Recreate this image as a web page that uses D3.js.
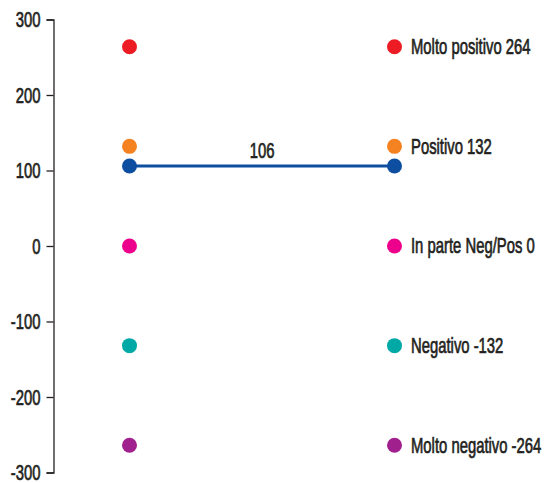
<!DOCTYPE html>
<html><head><meta charset="utf-8">
<script src="https://cdn.jsdelivr.net/npm/d3@7"></script>
<style>body{margin:0;background:#fff}text{font-family:"Liberation Sans",Arial,sans-serif;fill:#231f20;font-size:21.5px;stroke:#231f20;stroke-width:0.7px}</style>
</head><body><svg id="c" width="544" height="483"></svg>
<script>
const categories = ["Molto positivo","Positivo","In parte Neg/Pos","Negativo","Molto negativo"];
const values = [264,132,0,-132,-264];
const colors = ["#ed1c24","#f58220","#ec008c","#00a9a5","#a0218e"];
const meanValue = 106;
const tickValues = [300,200,100,0,-100,-200,-300];
const xPositions = ["left","right"];
const SX = 0.69;

const svg = d3.select("#c");
const y = d3.scaleLinear().domain([-300,300]).range([472.5,19.5]);
const x = d3.scalePoint().domain(xPositions).range([129.5,394.5]);

function squeeze(sel, px, py){
  sel.attr("transform", (d,i,n)=>`translate(${px(d,i,n)},${py(d,i,n)}) scale(${SX},1)`).attr("x",0).attr("y",0);
}

const ax = svg.append("g").attr("transform","translate(53.5,0)")
  .call(d3.axisLeft(y).tickValues(tickValues).tickSize(7).tickPadding(6).tickFormat(d=>String(d)));
ax.attr("font-size",null).attr("font-family",null);
ax.select(".domain").attr("stroke","#231f20").attr("stroke-width",1.3);
ax.selectAll(".tick line").attr("stroke","#231f20").attr("stroke-width",1.3);
ax.selectAll(".tick text").attr("fill","#231f20").attr("dy","0.34em");
squeeze(ax.selectAll(".tick text"), ()=>-13, ()=>0);

xPositions.forEach(p=>{
  svg.append("g").selectAll("circle").data(values).join("circle")
    .attr("cx",x(p)).attr("cy",d=>y(d)).attr("r",7.5)
    .attr("fill",(d,i)=>colors[i]);
});
const lab = svg.append("g").selectAll("text").data(values).join("text")
  .attr("dy","0.34em")
  .text((d,i)=>categories[i]+" "+d);
squeeze(lab, ()=>x("right")+16.5, d=>y(d));

svg.append("line").attr("x1",x("left")).attr("x2",x("right"))
  .attr("y1",y(meanValue)).attr("y2",y(meanValue))
  .attr("stroke","#0d4ea1").attr("stroke-width",3);
svg.append("g").selectAll("circle").data(xPositions).join("circle")
  .attr("cx",d=>x(d)).attr("cy",y(meanValue)).attr("r",7.5).attr("fill","#0d4ea1");
const mt = svg.append("text").datum(meanValue)
  .attr("text-anchor","middle").text(meanValue);
squeeze(mt, ()=>(x("left")+x("right"))/2, d=>y(d)-7.5);
</script></body></html>
